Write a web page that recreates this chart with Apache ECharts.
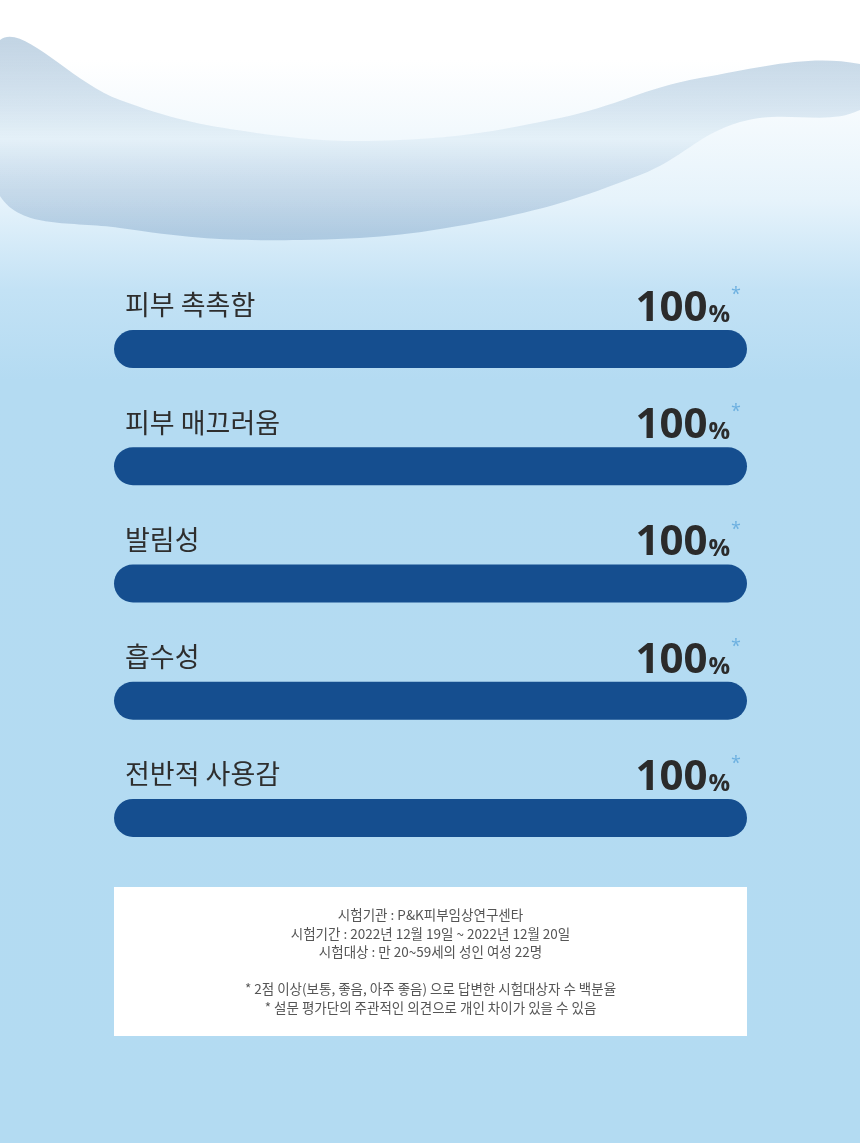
<!DOCTYPE html>
<html>
<head>
<meta charset="utf-8">
<script src="https://cdn.jsdelivr.net/npm/echarts@6/dist/echarts.min.js"></script>
<style>
  html, body { margin: 0; padding: 0; }
  body {
    width: 860px; height: 1143px;
    background: linear-gradient(to bottom, #ffffff 0px, #ffffff 60px, #e6f3fb 200px, #c3e2f5 290px, #b4dbf2 380px, #b3dbf2 1143px);
  }
  #chart { width: 860px; height: 1143px; }
</style>
</head>
<body>
<div id="chart"></div>
<script>
// survey items, top to bottom
const categories = ['피부 촉촉함', '피부 매끄러움', '발림성', '흡수성', '전반적 사용감'];
const values = [100, 100, 100, 100, 100];
const noteLines = [
  '시험기관 : P&K피부임상연구센타',
  '시험기간 : 2022년 12월 19일 ~ 2022년 12월 20일',
  '시험대상 : 만 20~59세의 성인 여성 22명',
  '',
  '* 2점 이상(보통, 좋음, 아주 좋음) 으로 답변한 시험대상자 수 백분율',
  '* 설문 평가단의 주관적인 의견으로 개인 차이가 있을 수 있음'
];

const chart = echarts.init(document.getElementById('chart'));

const option = {
  animation: false,
  grid: { left: 114, right: 113, top: 290.5, bottom: 266.5 },
  xAxis: { type: 'value', min: 0, max: 100, show: false },
  yAxis: {
    type: 'category', data: categories, inverse: true, show: false
  },
  series: [
    {
      // the visible bars + category name above
      type: 'bar',
      data: values,
      barWidth: 38,
      itemStyle: { color: '#154e8f', borderRadius: 19 },
      label: {
        show: true,
        position: 'insideLeft',
        distance: 11,
        offset: [0, -44],
        formatter: p => p.name,
        color: '#2e2e2e',
        fontSize: 27,
        fontFamily: 'Noto Sans CJK KR'
      }
    },
    {
      // invisible twin carrying the value label
      type: 'bar',
      data: values,
      barWidth: 38,
      barGap: '-100%',
      itemStyle: { color: 'rgba(0,0,0,0)' },
      silent: true,
      label: {
        show: true,
        position: 'insideRight',
        distance: 6,
        offset: [0, -40],
        formatter: p => '{v|' + p.value + '}{p|%}{s|*}',
        rich: {
          v: { fontSize: 42, fontWeight: 'bold', color: '#2b2b2b', fontFamily: 'Open Sans' },
          p: { fontSize: 24, fontWeight: 'bold', color: '#2b2b2b', fontFamily: 'Open Sans', padding: [12, 0, 0, 1] },
          s: { fontSize: 18, color: '#6db0e0', fontFamily: 'Open Sans', padding: [0, 0, 28, 1] }
        }
      }
    }
  ],
  graphic: [
    {
      // soft water band across the top
      type: 'polygon',
      silent: true,
      z: -1,
      shape: {
        smooth: 0.4,
        points: [
          [0, 40], [120, 100], [250, 132], [400, 140], [560, 118], [700, 78], [860, 64],
          [860, 110], [740, 122], [640, 175], [480, 222], [300, 240], [120, 228], [0, 196]
        ]
      },
      style: {
        fill: {
          type: 'linear', x: 0, y: 0, x2: 0, y2: 1,
          colorStops: [
            { offset: 0, color: 'rgba(120,160,195,0.45)' },
            { offset: 0.5, color: 'rgba(220,235,245,0.6)' },
            { offset: 1, color: 'rgba(110,150,190,0.4)' }
          ]
        }
      }
    },
    {
      type: 'group',
      left: 114,
      top: 887,
      children: [
        {
          type: 'rect',
          shape: { x: 0, y: 0, width: 633, height: 149 },
          style: { fill: '#ffffff' }
        },
        {
          type: 'text',
          x: 316.5,
          y: 74.5,
          style: {
            text: noteLines.join('\n'),
            align: 'center',
            verticalAlign: 'middle',
            fontSize: 13.5,
            lineHeight: 18.5,
            fill: '#555555',
            fontFamily: 'Noto Sans CJK KR'
          }
        }
      ]
    }
  ]
};

chart.setOption(option);
</script>
</body>
</html>
